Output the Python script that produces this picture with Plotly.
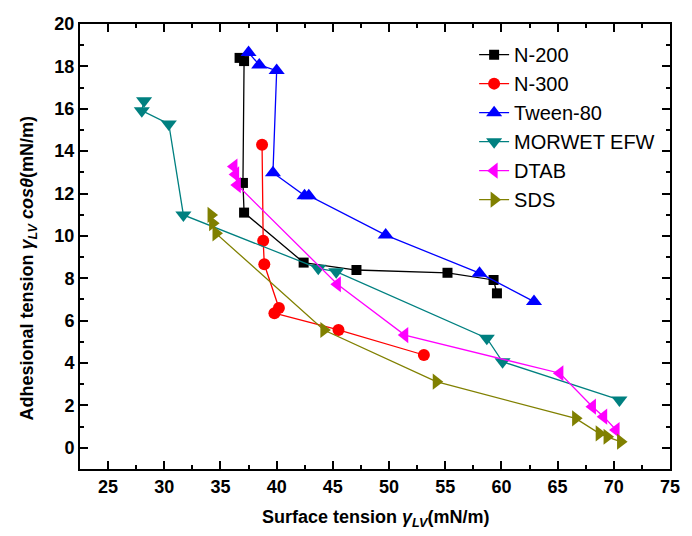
import plotly.graph_objects as go

# ---- data ----
n200_x = [36.7, 37.1, 37.0, 37.1, 42.4, 47.1, 55.2, 59.3, 59.6]
n200_y = [18.4, 18.25, 12.5, 11.1, 8.74, 8.39, 8.26, 7.92, 7.29]

n300_x = [38.7, 38.8, 38.9, 40.2, 39.8, 45.5, 53.1]
n300_y = [14.3, 9.77, 8.66, 6.6, 6.35, 5.56, 4.38]

tween_x = [37.5, 38.45, 40.0, 39.67, 42.48, 42.86, 49.7, 58.05, 62.9]
tween_y = [18.65, 18.07, 17.8, 12.98, 11.9, 11.9, 10.04, 8.24, 6.9]

morwet_x = [28.2, 28.0, 30.4, 31.7, 43.7, 45.3, 58.7, 60.1, 70.5]
morwet_y = [16.38, 15.91, 15.28, 10.99, 8.47, 8.31, 5.17, 4.06, 2.26]

dtab_x = [36.2, 36.35, 36.5, 45.4, 51.4, 65.2, 68.1, 69.1, 70.2]
dtab_y = [13.27, 12.9, 12.4, 7.72, 5.32, 3.52, 1.94, 1.47, 0.84]

sds_x = [34.16, 34.3, 34.6, 44.2, 54.2, 66.6, 68.7, 69.4, 70.6]
sds_y = [10.99, 10.6, 10.12, 5.56, 3.12, 1.39, 0.68, 0.52, 0.29]

series = [
    ("N-200", n200_x, n200_y, "#000000", "square", 10),
    ("N-300", n300_x, n300_y, "#FF0000", "circle", 12),
    ("Tween-80", tween_x, tween_y, "#0000FF", "triangle-up", 14),
    ("MORWET EFW", morwet_x, morwet_y, "#008080", "triangle-down", 14),
    ("DTAB", dtab_x, dtab_y, "#FF00FF", "triangle-left", 14),
    ("SDS", sds_x, sds_y, "#808000", "triangle-right", 14),
]

FONT = "Arial, Liberation Sans, sans-serif"

fig = go.Figure()
for name, xs, ys, col, sym, sz in series:
    fig.add_trace(go.Scatter(
        x=xs, y=ys, name=name, mode="lines+markers",
        line=dict(color=col, width=1.3),
        marker=dict(symbol=sym, size=sz, color=col),
    ))

axis_common = dict(
    showline=True, linewidth=2, linecolor="black", mirror="ticks",
    ticks="inside", ticklen=8, tickwidth=1.5, tickcolor="black",
    showgrid=False, zeroline=False,
    tickfont=dict(family=FONT, size=18, color="black", weight="bold"),
)

fig.update_xaxes(range=[22.5, 75], tick0=25, dtick=5,
                 minor=dict(ticks="inside", ticklen=4, dtick=2.5, tick0=22.5,
                            tickcolor="black", tickwidth=1.5, showgrid=False),
                 **axis_common)
fig.update_yaxes(range=[-1, 20], tick0=0, dtick=2,
                 minor=dict(ticks="inside", ticklen=4, dtick=1, tick0=-1,
                            tickcolor="black", tickwidth=1.5, showgrid=False),
                 **axis_common)

fig.add_annotation(
    text="Surface tension <i>γ<sub>LV</sub></i>(mN/m)",
    xref="paper", yref="paper", x=0.5, y=-0.112, xanchor="center", yanchor="middle",
    showarrow=False, font=dict(family=FONT, size=18, color="black", weight="bold"),
)
fig.add_annotation(
    text="Adhesional tension <i>γ<sub>LV</sub> cosθ</i>(mN/m)",
    xref="paper", yref="paper", x=-0.087, y=0.452, xanchor="center", yanchor="middle",
    textangle=-90, showarrow=False,
    font=dict(family=FONT, size=18, color="black", weight="bold"),
)

fig.update_layout(
    width=692, height=536,
    margin=dict(l=80, r=12, t=24, b=67),
    plot_bgcolor="white", paper_bgcolor="white",
    legend=dict(x=0.668, y=0.975, xanchor="left", yanchor="top",
                bgcolor="rgba(0,0,0,0)", borderwidth=0,
                font=dict(family=FONT, size=20, color="black")),
)

fig.write_html("out.html")
